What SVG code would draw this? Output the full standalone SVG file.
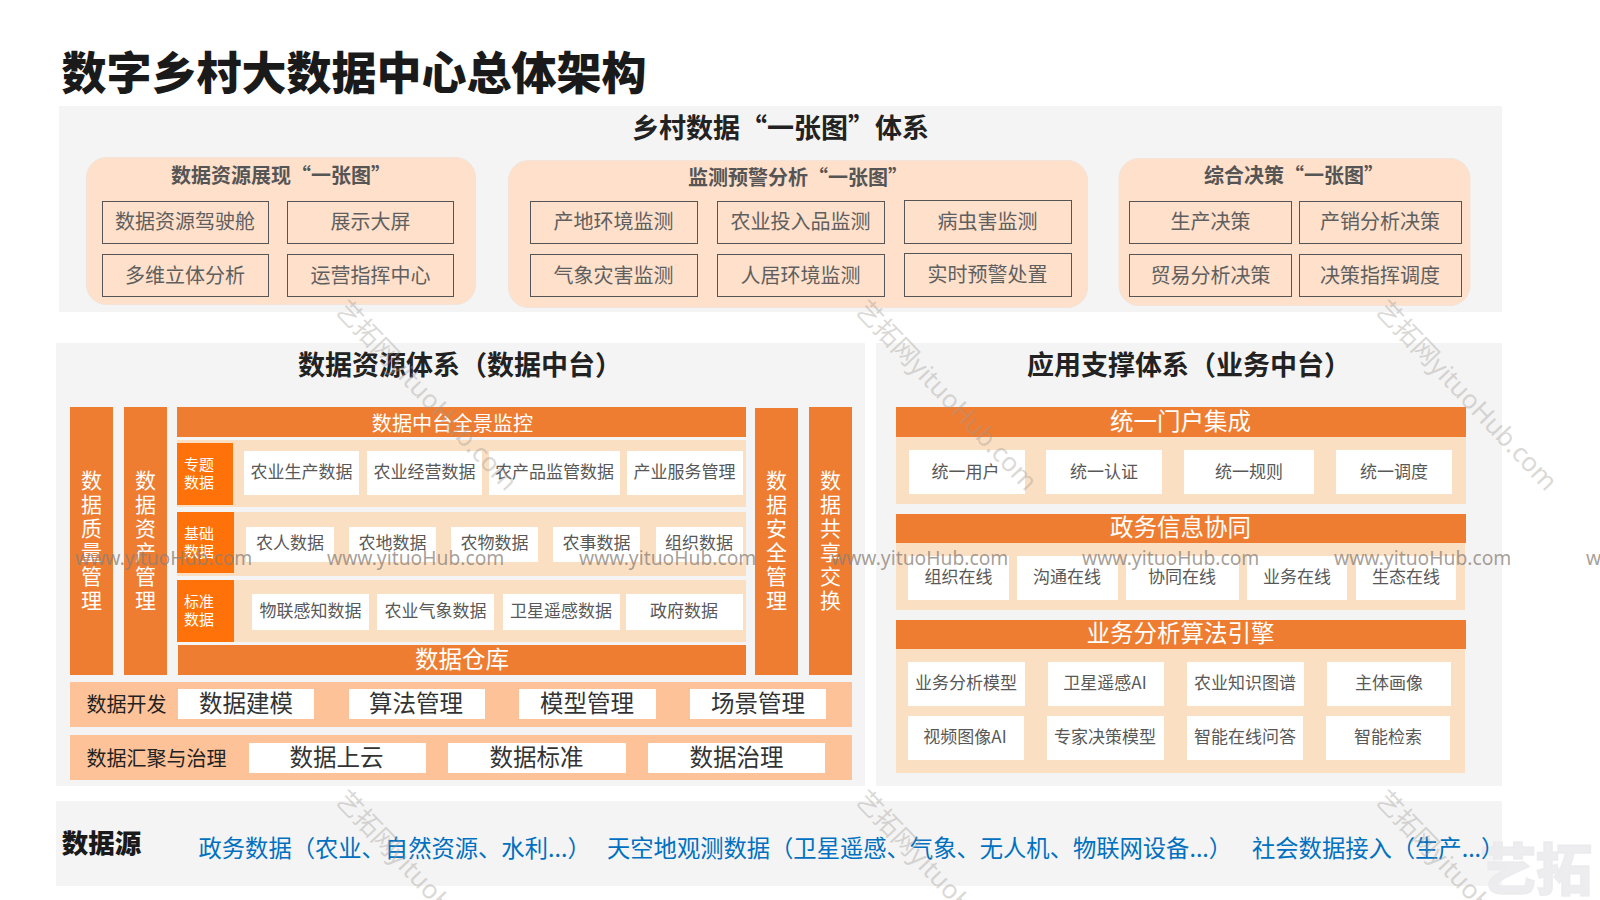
<svg xmlns="http://www.w3.org/2000/svg" width="1600" height="900" viewBox="0 0 1600 900">
<style>
text{font-family:"Noto Sans CJK SC","Noto Sans",sans-serif;text-anchor:middle}
.panel{fill:#f4f4f4}
.round{fill:#fee0cb;stroke:#f3e3d8;stroke-width:1}
.item{fill:#fee0cb;stroke:#555;stroke-width:1}
.or{fill:#ee7d31}
.dk{fill:#ff7209}
.bg{fill:#fbdfc2}
.pe{fill:#fec298}
.wh{fill:#fff}
.t1{font-size:45px;font-weight:900;fill:#1a1a1a}
.t2{font-size:27px;font-weight:700;fill:#222}
.t3{font-size:20px;font-weight:700;fill:#555}
.ti{font-size:20px;fill:#5f5f5f;font-weight:400}
.v{font-size:21px;fill:#fff}
.hd{font-size:23.500px;fill:#fff}
.lab{font-size:15px;fill:#fff;text-anchor:start}
.s{font-size:17px;fill:#585858;font-weight:400}
.m{font-size:23.500px;fill:#333;font-weight:400}
.l{font-size:20px;fill:#222;text-anchor:start}
.blue{font-size:23.300px;fill:#0070c0;text-anchor:start;font-weight:400}
.wm{font-family:"Noto Sans",sans-serif;font-size:19.300px;fill:#8a7f78;fill-opacity:.75;text-anchor:start}
.wd{font-family:"Noto Sans","Noto Sans CJK SC",sans-serif;font-size:26px;fill:#a09a94;fill-opacity:.38;text-anchor:start}
</style>
<g id="title"><text class="t1" x="354" y="90">数字乡村大数据中心总体架构</text></g>

<g id="map-system">
<rect class="panel" x="59" y="106" width="1443" height="206"/>
<text class="t2" x="780.500" y="138">乡村数据“一张图”体系</text>
</g>
<g id="map-resource">
<rect class="round" x="86.500" y="157.500" width="389" height="147" rx="20"/>
<text class="t3" x="281" y="183">数据资源展现“一张图”</text>
<rect class="item" x="102.500" y="201.500" width="166" height="42"/><text class="ti" x="185" y="229">数据资源驾驶舱</text>
<rect class="item" x="287.500" y="201.500" width="166" height="42"/><text class="ti" x="370.500" y="229">展示大屏</text>
<rect class="item" x="102.500" y="254.500" width="166" height="42"/><text class="ti" x="185" y="283">多维立体分析</text>
<rect class="item" x="287.500" y="254.500" width="166" height="42"/><text class="ti" x="370.500" y="283">运营指挥中心</text>
</g>
<g id="map-monitor">
<rect class="round" x="508.500" y="160.500" width="579" height="147" rx="20"/>
<text class="t3" x="798" y="185">监测预警分析“一张图”</text>
<rect class="item" x="530.500" y="201.500" width="167" height="42"/><text class="ti" x="613.500" y="229">产地环境监测</text>
<rect class="item" x="717.500" y="201.500" width="167" height="42"/><text class="ti" x="800.500" y="229">农业投入品监测</text>
<rect class="item" x="904.500" y="200.500" width="167" height="43"/><text class="ti" x="987.500" y="229">病虫害监测</text>
<rect class="item" x="530.500" y="254.500" width="167" height="42"/><text class="ti" x="613.500" y="283">气象灾害监测</text>
<rect class="item" x="717.500" y="254.500" width="167" height="42"/><text class="ti" x="800.500" y="283">人居环境监测</text>
<rect class="item" x="904.500" y="253.500" width="167" height="43"/><text class="ti" x="987.500" y="282">实时预警处置</text>
</g>
<g id="map-decision">
<rect class="round" x="1119" y="158.500" width="351" height="147" rx="20"/>
<text class="t3" x="1294" y="183">综合决策“一张图”</text>
<rect class="item" x="1129.500" y="201.500" width="162" height="42"/><text class="ti" x="1210.500" y="229">生产决策</text>
<rect class="item" x="1299.500" y="201.500" width="162" height="42"/><text class="ti" x="1380" y="229">产销分析决策</text>
<rect class="item" x="1129.500" y="254.500" width="162" height="42"/><text class="ti" x="1210.500" y="283">贸易分析决策</text>
<rect class="item" x="1299.500" y="254.500" width="162" height="42"/><text class="ti" x="1380" y="283">决策指挥调度</text>
</g>

<g id="data-platform">
<rect class="panel" x="56" y="343" width="809" height="443"/>
<text class="t2" x="460" y="375">数据资源体系（数据中台）</text>
</g>
<g id="v-quality"><rect class="or" x="70" y="407" width="43" height="268"/>
<text class="v"><tspan x="91.500" y="487.500">数</tspan><tspan x="91.500" y="511.500">据</tspan><tspan x="91.500" y="535.500">质</tspan><tspan x="91.500" y="559.500">量</tspan><tspan x="91.500" y="583.500">管</tspan><tspan x="91.500" y="607.500">理</tspan></text></g>
<g id="v-asset"><rect class="or" x="124" y="407" width="43" height="268"/>
<text class="v"><tspan x="145.500" y="487.500">数</tspan><tspan x="145.500" y="511.500">据</tspan><tspan x="145.500" y="535.500">资</tspan><tspan x="145.500" y="559.500">产</tspan><tspan x="145.500" y="583.500">管</tspan><tspan x="145.500" y="607.500">理</tspan></text></g>
<g id="v-security"><rect class="or" x="755" y="408" width="43" height="267"/>
<text class="v"><tspan x="776.500" y="487.500">数</tspan><tspan x="776.500" y="511.500">据</tspan><tspan x="776.500" y="535.500">安</tspan><tspan x="776.500" y="559.500">全</tspan><tspan x="776.500" y="583.500">管</tspan><tspan x="776.500" y="607.500">理</tspan></text></g>
<g id="v-share"><rect class="or" x="809" y="407" width="43" height="268"/>
<text class="v"><tspan x="830.500" y="487.500">数</tspan><tspan x="830.500" y="511.500">据</tspan><tspan x="830.500" y="535.500">共</tspan><tspan x="830.500" y="559.500">享</tspan><tspan x="830.500" y="583.500">交</tspan><tspan x="830.500" y="607.500">换</tspan></text></g>
<g id="monitor-bar"><rect class="or" x="177" y="407" width="569" height="30"/><text style="font-size:20.200px;fill:#fff" x="452.500" y="430.500">数据中台全景监控</text></g>
<g id="row-theme">
<rect class="bg" x="177" y="440" width="569" height="67"/>
<rect class="dk" x="177" y="443" width="56" height="62"/>
<text class="lab"><tspan x="184" y="470">专题</tspan><tspan x="184" y="488">数据</tspan></text>
<rect class="wh" x="244" y="451" width="115" height="44"/><text class="s" x="301.500" y="478">农业生产数据</text>
<rect class="wh" x="367" y="451" width="115" height="44"/><text class="s" x="424.500" y="478">农业经营数据</text>
<rect class="wh" x="489" y="451" width="131" height="44"/><text class="s" x="554.500" y="478">农产品监管数据</text>
<rect class="wh" x="627" y="451" width="116" height="44"/><text class="s" x="684.500" y="478">产业服务管理</text>
</g>
<g id="row-base">
<rect class="bg" x="177" y="512" width="569" height="64"/>
<rect class="dk" x="177" y="512" width="57" height="61"/>
<text class="lab"><tspan x="184" y="538.500">基础</tspan><tspan x="184" y="556.500">数据</tspan></text>
<rect class="wh" x="246" y="527" width="88" height="35"/><text class="s" x="290" y="549">农人数据</text>
<rect class="wh" x="349" y="527" width="87" height="35"/><text class="s" x="392.500" y="549">农地数据</text>
<rect class="wh" x="451" y="527" width="87" height="35"/><text class="s" x="494.500" y="549">农物数据</text>
<rect class="wh" x="553" y="527" width="87" height="35"/><text class="s" x="596.500" y="549">农事数据</text>
<rect class="wh" x="656" y="527" width="87" height="35"/><text class="s" x="699" y="549">组织数据</text>
</g>
<g id="row-standard">
<rect class="bg" x="177" y="580" width="569" height="62"/>
<rect class="dk" x="177" y="580" width="57" height="62"/>
<text class="lab"><tspan x="184" y="607">标准</tspan><tspan x="184" y="625">数据</tspan></text>
<rect class="wh" x="252" y="594" width="117" height="36"/><text class="s" x="310.500" y="617">物联感知数据</text>
<rect class="wh" x="377" y="594" width="117" height="36"/><text class="s" x="435.500" y="617">农业气象数据</text>
<rect class="wh" x="503" y="594" width="117" height="36"/><text class="s" x="561" y="617">卫星遥感数据</text>
<rect class="wh" x="626" y="594" width="117" height="36"/><text class="s" x="684" y="617">政府数据</text>
</g>
<g id="warehouse-bar"><rect class="or" x="178" y="645" width="568" height="30"/><text class="hd" x="462" y="667.500">数据仓库</text></g>
<g id="row-dev">
<rect class="pe" x="70" y="682" width="782" height="45"/>
<text class="l" x="86.500" y="712">数据开发</text>
<rect class="wh" x="178" y="689" width="136" height="30"/><text class="m" x="246" y="711.500">数据建模</text>
<rect class="wh" x="349" y="689" width="136" height="30"/><text class="m" x="416" y="711.500">算法管理</text>
<rect class="wh" x="519" y="689" width="137" height="30"/><text class="m" x="587" y="711.500">模型管理</text>
<rect class="wh" x="690" y="689" width="136" height="30"/><text class="m" x="758" y="711.500">场景管理</text>
</g>
<g id="row-gather">
<rect class="pe" x="70" y="735" width="782" height="45"/>
<text class="l" x="86.500" y="766">数据汇聚与治理</text>
<rect class="wh" x="249" y="743" width="177" height="30"/><text class="m" x="336.500" y="765.500">数据上云</text>
<rect class="wh" x="448" y="743" width="178" height="30"/><text class="m" x="536.500" y="765.500">数据标准</text>
<rect class="wh" x="648" y="743" width="177" height="30"/><text class="m" x="736.500" y="765.500">数据治理</text>
</g>

<g id="app-platform">
<rect class="panel" x="876" y="343" width="626" height="443"/>
<text class="t2" x="1189" y="375">应用支撑体系（业务中台）</text>
</g>
<g id="portal">
<rect class="bg" x="896" y="437" width="570" height="67"/>
<rect class="or" x="896" y="407" width="570" height="30"/><text class="hd" x="1180.500" y="430">统一门户集成</text>
<rect class="wh" x="909" y="450" width="116" height="44"/><text class="s" x="965.500" y="477.500">统一用户</text>
<rect class="wh" x="1046" y="450" width="116" height="44"/><text class="s" x="1104" y="477.500">统一认证</text>
<rect class="wh" x="1184" y="450" width="130" height="44"/><text class="s" x="1249" y="477.500">统一规则</text>
<rect class="wh" x="1336" y="450" width="116" height="44"/><text class="s" x="1394" y="477.500">统一调度</text>
</g>
<g id="gov">
<rect class="bg" x="896" y="543" width="569" height="67"/>
<rect class="or" x="896" y="514" width="570" height="29"/><text class="hd" x="1180.500" y="536">政务信息协同</text>
<rect class="wh" x="908" y="556" width="101" height="44"/><text class="s" x="958.500" y="583">组织在线</text>
<rect class="wh" x="1017" y="556" width="101" height="44"/><text class="s" x="1067" y="583">沟通在线</text>
<rect class="wh" x="1126" y="556" width="113" height="44"/><text class="s" x="1182" y="583">协同在线</text>
<rect class="wh" x="1247" y="556" width="100" height="44"/><text class="s" x="1297" y="583">业务在线</text>
<rect class="wh" x="1356" y="556" width="100" height="44"/><text class="s" x="1406" y="583">生态在线</text>
</g>
<g id="engine">
<rect class="bg" x="896" y="649" width="569" height="124"/>
<rect class="or" x="896" y="620" width="570" height="29"/><text class="hd" x="1180.500" y="642">业务分析算法引擎</text>
<rect class="wh" x="908" y="662" width="117" height="44"/><text class="s" x="966" y="689">业务分析模型</text>
<rect class="wh" x="1048" y="662" width="116" height="44"/><text class="s" x="1105" y="689">卫星遥感AI</text>
<rect class="wh" x="1187" y="662" width="117" height="44"/><text class="s" x="1245" y="689">农业知识图谱</text>
<rect class="wh" x="1327" y="662" width="124" height="44"/><text class="s" x="1389" y="689">主体画像</text>
<rect class="wh" x="908" y="716" width="116" height="44"/><text class="s" x="965" y="743">视频图像AI</text>
<rect class="wh" x="1047" y="716" width="117" height="44"/><text class="s" x="1105" y="743">专家决策模型</text>
<rect class="wh" x="1187" y="716" width="116" height="44"/><text class="s" x="1245" y="743">智能在线问答</text>
<rect class="wh" x="1326" y="716" width="124" height="44"/><text class="s" x="1388" y="743">智能检索</text>
</g>

<g id="source">
<rect class="panel" x="56" y="801" width="1446" height="85"/>
<text x="1536" y="890" style="font-size:56px;font-weight:900;fill:#eaeaec;fill-opacity:.85;stroke:#eaeaec;stroke-opacity:.85;stroke-width:1.500">艺拓</text>
<text x="101.500" y="853" style="font-size:26.500px;font-weight:900;fill:#1a1a1a">数据源</text>
<text class="blue" x="198.500" y="857">政务数据（农业、自然资源、水利...）</text>
<text class="blue" x="607" y="857">天空地观测数据（卫星遥感、气象、无人机、物联网设备...）</text>
<text class="blue" x="1252" y="857">社会数据接入（生产...）</text>
</g>

<g id="watermarks">
<text class="wm" x="75" y="565">www.yituoHub.com</text>
<text class="wm" x="327" y="565">www.yituoHub.com</text>
<text class="wm" x="579" y="565">www.yituoHub.com</text>
<text class="wm" x="831" y="565">www.yituoHub.com</text>
<text class="wm" x="1082" y="565">www.yituoHub.com</text>
<text class="wm" x="1334" y="565">www.yituoHub.com</text>
<text class="wm" x="1586" y="565">www.yituoHub.com</text>
<text class="wd" transform="translate(334 311) rotate(46.500)">艺拓网yituoHub.com</text>
<text class="wd" transform="translate(854 311) rotate(46.500)">艺拓网yituoHub.com</text>
<text class="wd" transform="translate(1374 311) rotate(46.500)">艺拓网yituoHub.com</text>
<text class="wd" transform="translate(334 801) rotate(46.500)">艺拓网yituoHub.com</text>
<text class="wd" transform="translate(854 801) rotate(46.500)">艺拓网yituoHub.com</text>
<text class="wd" transform="translate(1374 801) rotate(46.500)">艺拓网yituoHub.com</text>
</g>
</svg>
